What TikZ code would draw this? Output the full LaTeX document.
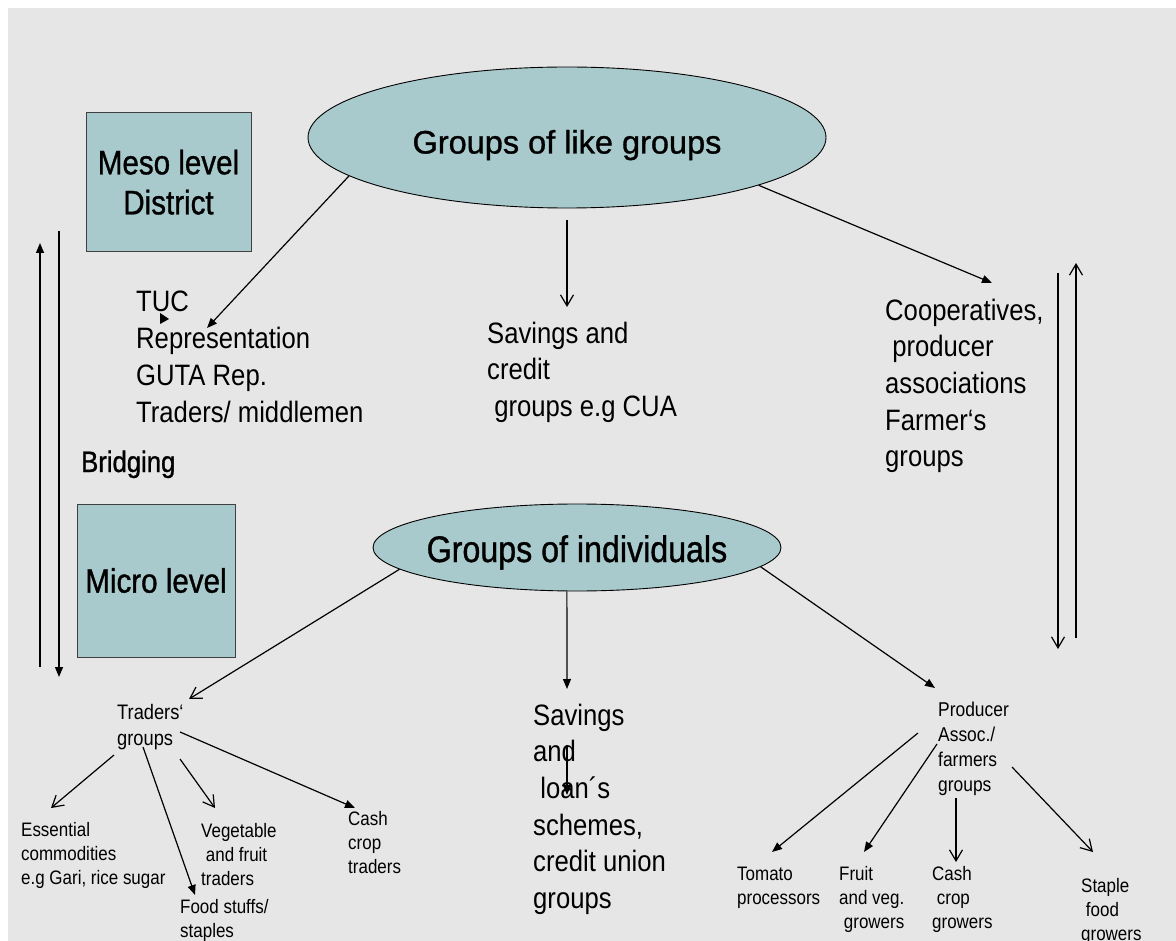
\documentclass[tikz,border=0pt]{standalone}
\usepackage{fontspec}
\usetikzlibrary{arrows.meta,shapes.geometric}
\newfontfamily\nf[FakeStretch=0.87]{Liberation Sans}
\newfontfamily\nfb[FakeStretch=0.87,FakeBold=1]{Liberation Sans}
\newfontfamily\nfwb[FakeBold=1]{Liberation Sans}
\definecolor{bgGray}{HTML}{E6E6E6}
\definecolor{tealFill}{HTML}{A9CACC}
\begin{document}
\begin{tikzpicture}[x=1pt,y=-1pt,
  ell/.style={ellipse, draw=black, line width=0.9pt, fill=tealFill, inner sep=0pt},
  lvlbox/.style={rectangle, draw=black!75, line width=1pt, fill=tealFill, align=center, inner sep=0pt, font=\nfb\fontsize{34}{40}\selectfont},
  bodytxt/.style={anchor=base west, inner sep=0pt, align=left, font=\nf\fontsize{29.5}{36.7}\selectfont},
  smalltxt/.style={anchor=base west, inner sep=0pt, align=left, font=\nf\fontsize{19.5}{24}\selectfont},
  conn/.style={line width=1.2pt, draw=black},
  farr/.style={conn, -{Triangle[length=10pt,width=8pt]}},
  oarr/.style={conn, -{Straight Barb[length=11pt,width=13pt]}}]
\useasboundingbox (0,0) rectangle (1176,941);
\fill[bgGray] (8,8) rectangle (1176,941);

% main ellipses
\node[ell, minimum width=518pt, minimum height=141pt, text height=33pt, text depth=1pt,
      font=\nfwb\fontsize{32.5}{38}\selectfont] (like) at (567,137.5) {Groups of like groups};
\node[ell, minimum width=408pt, minimum height=87pt, inner xsep=-10pt, text height=30pt, text depth=1pt,
      font=\nfb\fontsize{37}{44}\selectfont] (indiv) at (577,547.5) {Groups of individuals};

% level boxes
\node[lvlbox, minimum width=165pt, minimum height=139pt, text depth=0pt] (meso) at (168.5,182) {Meso level\\District};
\node[lvlbox, minimum width=158pt, minimum height=153pt] (micro) at (156,580.5) {Micro level};
\node[bodytxt, font=\nfb\fontsize{29.5}{36.7}\selectfont] (bridging) at (81,472) {Bridging};

% upper texts (placed at the baseline of their last line)
\node[bodytxt] (tuc) at (136,422.1) {TUC\\Representation\\GUTA Rep.\\Traders/ middlemen};
\node[bodytxt] (savA) at (487,416.4) {Savings and\\credit\\\ groups e.g CUA};
\node[bodytxt] (coop) at (885,466.8) {Cooperatives,\\\ producer\\associations\\Farmer‘s\\groups};

% lower texts
\node[bodytxt] (savB) at (533,908.5) {Savings\\and\\\ loan´s\\schemes,\\credit union\\groups};
\node[smalltxt, font=\nf\fontsize{21}{26}\selectfont] (trg) at (117,745) {Traders‘\\groups};
\node[smalltxt] (ess) at (21,884) {Essential\\commodities\\e.g Gari, rice sugar};
\node[smalltxt] (food) at (180,937) {Food stuffs/\\staples};
\node[smalltxt] (veg) at (201,885) {Vegetable\\\ and fruit\\traders};
\node[smalltxt] (cashT) at (348,873) {Cash\\crop\\traders};
\node[smalltxt, font=\nf\fontsize{20}{25.3}\selectfont] (prod) at (938,791.9) {Producer\\Assoc./\\farmers\\groups};
\node[smalltxt] (tom) at (737,904) {Tomato\\processors};
\node[smalltxt] (fruit) at (839,928) {Fruit\\and veg.\\\ growers};
\node[smalltxt] (cashG) at (932,928) {Cash\\\ crop\\growers};
\node[smalltxt] (staple) at (1081,940) {Staple\\\ food\\growers};

% connectors from the top ellipse
\draw[farr] (like.190.6) -- ([shift={(71,-94.1)}]tuc.base west);
\draw[oarr, shorten <=12pt] (like.south) -- ([shift={(80,-109.4)}]savA.base west);
\draw[farr] (like.346) -- ([shift={(107,-183.8)}]coop.base west);
\fill ([shift={(24,-109.1)}]tuc.base west) -- ([shift={(33,-103.1)}]tuc.base west) -- ([shift={(24,-98.1)}]tuc.base west) -- cycle;

% connectors from the lower ellipse
\draw[oarr] (indiv.187) -- ([shift={(72,-46)}]trg.base west);
\draw[farr] (indiv.257) -- ([shift={(34,-219.5)}]savB.base west);
\draw[farr] (indiv.354) -- ([shift={(-3,-103.9)}]prod.base west);
\draw[farr] ([shift={(34,-163.5)}]savB.base west) -- ([shift={(34,-113.5)}]savB.base west);

% traders' groups
\draw[oarr] ([shift={(-3,10)}]trg.base west) -- ([shift={(30,-76)}]ess.base west);
\draw[farr] ([shift={(26,2)}]trg.base west) -- ([shift={(15,-42)}]food.base west);
\draw[oarr] ([shift={(63,14)}]trg.base west) -- ([shift={(14,-77)}]veg.base west);
\draw[farr] ([shift={(63,-13)}]trg.base west) -- ([shift={(7,-65)}]cashT.base west);

% producer groups
\draw[farr] ([shift={(-20,-58.9)}]prod.base west) -- ([shift={(35,-52)}]tom.base west);
\draw[farr] ([shift={(-1,-47.9)}]prod.base west) -- ([shift={(25,-76)}]fruit.base west);
\draw[oarr] ([shift={(18,6.1)}]prod.base west) -- ([shift={(24,-66)}]cashG.base west);
\draw[oarr] ([shift={(74,-24.9)}]prod.base west) -- ([shift={(12,-88)}]staple.base west);

% level arrows
\coordinate (upLa) at (40,667); \coordinate (upLb) at (40,243);
\coordinate (dnLa) at (59,231); \coordinate (dnLb) at (59,677);
\coordinate (dnRa) at (1058,273); \coordinate (dnRb) at (1058,649);
\coordinate (upRa) at (1076,638); \coordinate (upRb) at (1076,263);
\draw[farr] (upLa) -- (upLb);
\draw[farr] (dnLa) -- (dnLb);
\draw[oarr] (dnRa) -- (dnRb);
\draw[oarr] (upRa) -- (upRb);
\end{tikzpicture}
\end{document}
